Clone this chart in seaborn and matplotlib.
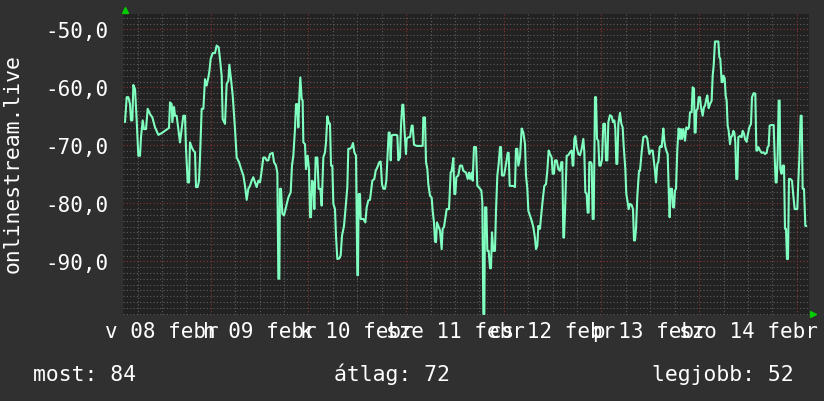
import matplotlib
matplotlib.use("Agg")
import matplotlib.pyplot as plt
import seaborn as sns
import pandas as pd
from matplotlib.ticker import FixedLocator, FuncFormatter

# hours since Sun 08 Feb 00:00
hours = [
    2.93, 3.34, 3.75, 4.16, 4.40, 4.73, 4.98, 5.39, 5.80, 6.20, 6.61, 6.86, 7.27, 7.60, 8.09, 8.50,
    9.07, 9.65, 10.30, 11.12, 11.94, 12.76, 13.74, 13.99, 14.40, 14.56, 14.97, 15.22, 15.62, 16.03,
    16.44, 16.85, 17.26, 17.67, 17.92, 18.33, 18.66, 18.90, 19.31, 19.72, 20.13, 20.38, 20.79, 21.11,
    21.36, 21.77, 22.18, 22.59, 23.00, 23.41, 23.65, 23.98, 24.47, 25.04, 25.45, 25.94, 26.27, 26.68,
    26.93, 27.50, 27.91, 28.32, 28.57, 28.98, 29.39, 29.96, 30.37, 30.94, 31.60, 32.01, 32.42, 32.83,
    33.23, 33.64, 34.05, 34.46, 34.87, 35.28, 35.69,
    36.10, 36.51, 36.92, 37.33, 37.74, 38.15, 38.56, 39.21, 39.54, 40.03, 40.36, 40.61, 40.85, 41.01,
    41.26, 41.59, 42.00, 42.49, 43.06, 43.64, 43.96, 44.29, 44.70, 44.95, 45.27, 45.52, 45.77, 46.01,
    46.34, 46.58, 46.75, 47.16, 47.40, 47.81, 48.14, 48.39, 48.63, 48.88, 49.21, 49.45, 49.78, 50.19,
    50.51, 50.93, 51.25, 51.66, 52.07, 52.32, 52.65, 53.06, 53.30, 53.55, 53.87, 54.12, 54.53, 54.77,
    55.10, 55.59, 55.92, 56.25, 56.74, 57.07, 57.56, 57.80, 58.21, 58.62, 58.95, 59.28, 59.69, 60.02,
    60.18, 60.34, 60.67, 60.84, 61.49, 61.98, 62.31, 62.72, 63.13, 63.70, 64.19, 64.52, 64.93, 65.42,
    65.75, 66.08, 66.41, 66.82, 67.14, 67.39, 67.72, 67.96, 68.21, 68.45, 68.86, 69.52, 69.85, 70.09,
    70.50, 70.75, 71.07, 71.32, 71.56, 71.97, 72.14, 72.55, 72.96, 73.37, 73.61, 73.94, 74.60, 75.41,
    76.07, 76.23, 76.64, 76.89, 77.22, 77.46, 77.87, 78.28, 78.53, 78.85, 79.10, 79.35, 79.59, 79.92,
    80.33, 80.74, 80.98, 81.31, 81.72, 81.97, 82.54, 82.95, 83.20, 83.61, 83.85, 84.10, 84.34, 84.83,
    85.24, 85.74, 86.06, 86.72, 87.13, 87.46, 87.70, 88.11, 88.36, 88.68, 89.18, 89.50, 89.83, 90.16,
    90.49, 90.73, 90.98, 91.22, 91.39, 91.71, 91.96, 92.29, 92.62, 92.86, 93.11, 93.43, 93.84, 94.09,
    94.42, 94.75, 95.07, 95.32, 95.56, 96.06, 96.55, 96.96, 97.20, 97.45, 97.94, 98.35, 98.76, 99.00,
    99.33, 99.58, 99.99, 100.40, 100.81, 101.22, 101.46, 101.79, 102.04, 102.44, 102.85, 103.26,
    103.67, 103.92, 104.25, 104.49,
    104.90, 105.15, 105.56, 105.96, 106.37, 106.70, 107.03, 107.36, 107.77, 108.01, 108.34, 108.59,
    109.00, 109.41, 109.81, 110.14, 110.39, 110.63, 110.80, 111.04, 111.45, 111.86, 112.27, 112.68,
    112.93, 113.09, 113.34, 113.58, 113.91, 114.32, 114.73, 115.14, 115.55, 115.79, 116.04, 116.37,
    116.61, 116.86, 117.02, 117.35, 117.60, 117.84, 118.09, 118.42, 118.66, 118.91, 119.23, 119.48,
    119.81, 120.14, 120.46, 120.87, 121.12, 121.45, 121.69, 122.10, 122.51, 122.84, 123.17, 123.41,
    123.66, 123.90, 124.15, 124.56, 124.89, 125.21, 125.46, 125.87, 126.11, 126.44, 126.69, 127.02,
    127.43, 127.75, 128.00, 128.24, 128.49, 128.82, 129.23, 129.47, 129.88, 130.29, 130.95, 131.28,
    131.52, 131.77, 132.18, 132.59, 132.91, 133.16, 133.40, 133.73, 133.98, 134.31, 134.55, 134.80,
    135.21, 135.45, 135.70, 136.03, 136.27, 136.52, 136.76, 137.01, 137.34, 137.58, 137.83, 138.07,
    138.32, 138.65, 138.97,
    139.30, 139.55, 139.79, 140.12, 140.53, 140.86, 141.27, 141.51, 141.76, 142.17, 142.41, 142.74,
    142.90, 143.15, 143.31, 143.64, 143.89, 144.21, 144.46, 144.87, 145.20, 145.44, 145.77, 146.02,
    146.34, 146.67, 147.08, 147.33, 147.57, 147.90, 148.72, 148.97, 149.21, 149.54, 149.78, 149.95,
    150.28, 150.52, 150.77, 151.01, 151.26, 151.59, 151.83, 152.16, 152.41, 152.65, 152.90, 153.14,
    153.39, 153.63, 154.04, 154.45, 154.70, 155.03, 155.27, 155.68, 155.93, 156.34, 156.75, 156.99,
    157.40, 157.81, 158.06, 158.30, 158.55, 158.96, 159.37, 159.78, 160.19, 160.60, 160.84, 161.09,
    161.33, 161.83, 162.32, 162.56, 162.81, 163.05, 163.30, 163.55, 163.79, 163.95, 164.28, 164.53,
    164.86, 165.10, 165.35, 165.59, 165.84, 166.08, 166.41, 166.82, 167.15, 167.48, 168.13, 168.38,
    168.62, 168.95, 169.20, 169.44, 169.77, 170.10, 170.34,
]

signal = [
    -66.0, -61.7, -61.7, -62.9, -65.7, -65.7, -59.6, -60.3, -65.7, -71.8, -71.8, -68.6, -65.7, -67.2, -67.2, -63.7,
    -64.6, -65.2, -66.9, -68.2, -67.9, -67.5, -67.0, -62.6, -62.9, -66.0, -63.4, -64.9, -64.9, -67.2,
    -69.5, -67.2, -64.9, -64.9, -70.6, -76.4, -76.4, -69.5, -70.3, -70.9, -71.2, -77.2, -77.2, -76.1,
    -72.1, -63.7, -63.7, -58.6, -59.7, -58.3, -57.3, -55.1, -54.1, -54.1, -52.8, -53.1, -55.1, -58.0,
    -65.5, -66.3, -59.4, -58.9, -56.1, -58.6, -61.4, -67.2, -72.1, -72.9, -74.4, -75.2, -77.0, -79.4,
    -77.5, -77.0, -76.1, -75.5, -76.4, -77.2, -76.1,
    -76.4, -74.4, -72.1, -72.1, -72.6, -72.6, -71.5, -71.3, -72.9, -73.5, -74.7, -93.0, -93.0, -77.5,
    -77.5, -81.8, -82.1, -80.7, -79.0, -78.1, -73.5, -71.8, -67.2, -62.9, -62.9, -66.9, -61.4, -58.3,
    -62.0, -62.3, -69.5, -69.8, -74.1, -71.8, -74.1, -82.4, -82.4, -76.1, -76.4, -81.0, -72.1, -72.1,
    -77.5, -77.5, -80.4, -72.1, -71.2, -69.5, -65.0, -66.3, -66.3, -73.5, -73.5, -80.1, -81.0, -85.6,
    -89.6, -89.5, -89.0, -85.6, -83.9, -81.3, -77.2, -70.6, -70.6, -70.3, -69.6, -71.2, -71.8, -92.4,
    -92.4, -78.4, -78.4, -82.7, -82.7, -83.3, -80.7, -79.5, -79.4, -76.1, -75.8, -74.4, -73.8, -72.9,
    -72.8, -76.7, -77.5, -77.5, -76.1, -72.6, -67.8, -67.8, -72.6, -68.3, -68.2, -68.2, -68.3, -72.6,
    -72.1, -66.6, -63.0, -63.0, -66.9, -71.5, -68.9, -68.6, -68.6, -66.6, -66.6, -69.9, -70.1, -70.1,
    -70.1, -65.2, -65.2, -72.9, -74.1, -76.7, -78.7, -79.0, -81.3, -83.3, -86.6, -86.7, -83.3, -83.9,
    -84.7, -87.9, -84.4, -84.1, -82.1, -81.0, -81.0, -74.7, -74.4, -72.2, -78.4, -78.4, -75.5, -75.2,
    -73.5, -73.5, -74.4, -74.7, -75.8, -74.7, -75.8, -74.7, -76.1, -70.3, -70.3, -77.0, -77.2, -77.5,
    -77.8, -79.8, -99.1, -99.1, -80.7, -80.7, -88.2, -88.2, -91.2, -91.2, -85.0, -88.2, -88.2, -81.3,
    -75.2, -73.2, -70.3, -70.3, -75.2, -75.2, -73.2, -71.3, -71.3, -77.0, -77.0, -77.0, -77.2, -70.6,
    -70.6, -73.5, -72.1, -67.1, -67.8, -69.8, -75.2, -77.5, -81.3, -82.1, -83.0, -84.1,
    -86.0, -87.9, -87.3, -83.9,
    -84.4, -82.4, -79.5, -77.0, -76.7, -74.4, -70.9, -71.5, -72.1, -74.9, -74.9, -72.6,
    -72.6, -74.1, -74.4, -72.9, -72.9, -85.9, -85.9, -81.6, -71.8, -71.7, -71.2, -70.9,
    -73.5, -73.5, -68.9, -68.4, -70.3, -71.5, -71.7, -70.6, -68.9, -71.2, -78.1, -78.4,
    -81.6, -81.6, -72.9, -72.9, -73.2, -82.7, -82.7, -61.7, -61.7, -68.9, -69.2, -73.5,
    -73.5, -72.4, -66.3, -66.3, -72.6, -72.6, -66.0, -64.8, -65.0, -66.0, -65.7, -67.2,
    -73.2, -73.2, -66.3, -64.4, -66.3, -66.9, -70.1, -74.1, -78.4, -79.8, -81.0, -80.1,
    -80.3, -81.0, -86.4, -86.4, -84.4, -78.7, -74.4, -74.4, -71.2, -68.6, -68.4, -68.9,
    -70.3, -71.5, -70.9, -70.9, -72.9, -74.4, -76.4, -73.2, -72.9, -70.3, -70.1, -70.3,
    -67.1, -69.2, -70.3, -71.1, -71.5, -77.5, -82.4, -77.5, -77.5, -80.7, -80.7, -77.8,
    -77.5, -70.6, -67.1,
    -68.9, -67.2, -68.9, -67.2, -69.2, -66.9, -67.2, -66.9, -64.3, -64.3, -60.0, -60.2,
    -67.8, -67.8, -64.0, -63.7, -61.7, -61.7, -63.4, -64.9, -63.4, -63.2, -62.0, -61.4,
    -63.6, -62.9, -62.3, -58.0, -56.3, -52.1, -52.1, -54.8, -55.1, -59.1, -59.1, -58.0,
    -58.4, -61.4, -62.3, -66.6, -67.5, -69.8, -68.6, -68.3, -67.5, -67.8, -69.5, -75.8,
    -75.8, -68.6, -68.4, -68.6, -67.5, -68.0, -68.9, -69.4, -68.3, -66.9, -66.3, -61.7,
    -61.0, -61.1, -70.9, -70.9, -70.3, -70.9, -71.3, -71.2, -71.5, -71.3, -70.3, -70.1,
    -66.6, -66.5, -66.5, -71.8, -76.4, -76.4, -71.8, -62.3, -62.3, -74.1, -74.9, -73.5,
    -73.5, -84.4, -84.4, -89.6, -89.6, -75.8, -75.8, -76.1, -78.7, -81.0, -81.0, -76.1,
    -72.4, -64.9, -64.9, -77.5, -77.5, -83.9, -83.9,
]

day_tick_hours = [12, 36, 60, 84, 108, 132, 156]
day_labels = ["v 08 febr", "h 09 febr", "k 10 febr", "sze 11 febr",
              "cs 12 febr", "p 13 febr", "szo 14 febr"]
y_ticks = [-90, -80, -70, -60, -50]
y_label = "onlinestream.live"
legend_items = ["most: 84", "átlag: 72", "legjobb: 52"]

df = pd.DataFrame({"hour": hours, "signal": signal})

sns.set_style("dark")
plt.rcParams["font.family"] = ["DejaVu Sans Mono"]

BG = "#303030"
PLOT_BG = "#222222"
TXT = "#ffffff"
MINOR = "#5e5e5e"
MAJOR = "#8a3434"
W, H = 824, 402

fig = plt.figure(figsize=(W / 100, H / 100), dpi=100, facecolor=BG)
left, right, top, bottom = 123.3, 809.0, 15.0, 315.5
ax = fig.add_axes([left / W, 1 - bottom / H, (right - left) / W, (bottom - top) / H])
ax.set_facecolor(PLOT_BG)

sns.lineplot(data=df, x="hour", y="signal", ax=ax, color="#80ffc0",
             linewidth=1.5, estimator=None, sort=False, zorder=5)

ax.set_xlim(2.51, 171.0)
ax.set_ylim(-99.17, -47.36)

# grids
dot = (0, (1, 2))
x_minor = [h for h in range(0, 175, 6) if h % 24]
for h in x_minor:
    ax.axvline(h, color=MINOR, lw=0.8, ls=dot, zorder=1)
for h in range(24, 175, 24):
    ax.axvline(h, color=MAJOR, lw=0.8, ls=dot, zorder=2)
for v in range(-99, -47):
    if v % 10:
        ax.axhline(v, color=MINOR, lw=0.8, ls=dot, zorder=1)
for v in y_ticks:
    ax.axhline(v, color=MAJOR, lw=0.8, ls=dot, zorder=2)
ax.grid(False)

ax.xaxis.set_major_locator(FixedLocator(day_tick_hours))
ax.set_xticklabels(day_labels)
ax.yaxis.set_major_locator(FixedLocator(y_ticks))
ax.yaxis.set_major_formatter(FuncFormatter(lambda v, p: f"{v:.1f}".replace(".", ",")))
ax.tick_params(axis="x", length=0, pad=5, labelsize=15, labelcolor=TXT)
ax.tick_params(axis="y", length=0, pad=11, labelsize=15, labelcolor=TXT)
ax.set_xlabel("")
ax.set_ylabel("")
for s in ax.spines.values():
    s.set_visible(False)

# small axis arrows (rrd style)
ax.plot([0.0025], [1.014], marker="^", color="#00cc00", markersize=4.5,
        transform=ax.transAxes, clip_on=False, zorder=6)
ax.plot([1.0063], [0.0033], marker=">", color="#00cc00", markersize=4.5,
        transform=ax.transAxes, clip_on=False, zorder=6)

fig.text(12.5 / W, 1 - 164 / H, y_label, rotation=90, ha="center", va="center",
         color=TXT, fontsize=15.4)
for xpos, txt in zip([33, 334, 651.6], legend_items):
    fig.text(xpos / W, 1 - 381 / H, txt, ha="left", va="baseline",
             color=TXT, fontsize=15.4)

fig.savefig("out.png", dpi=100, facecolor=BG)
